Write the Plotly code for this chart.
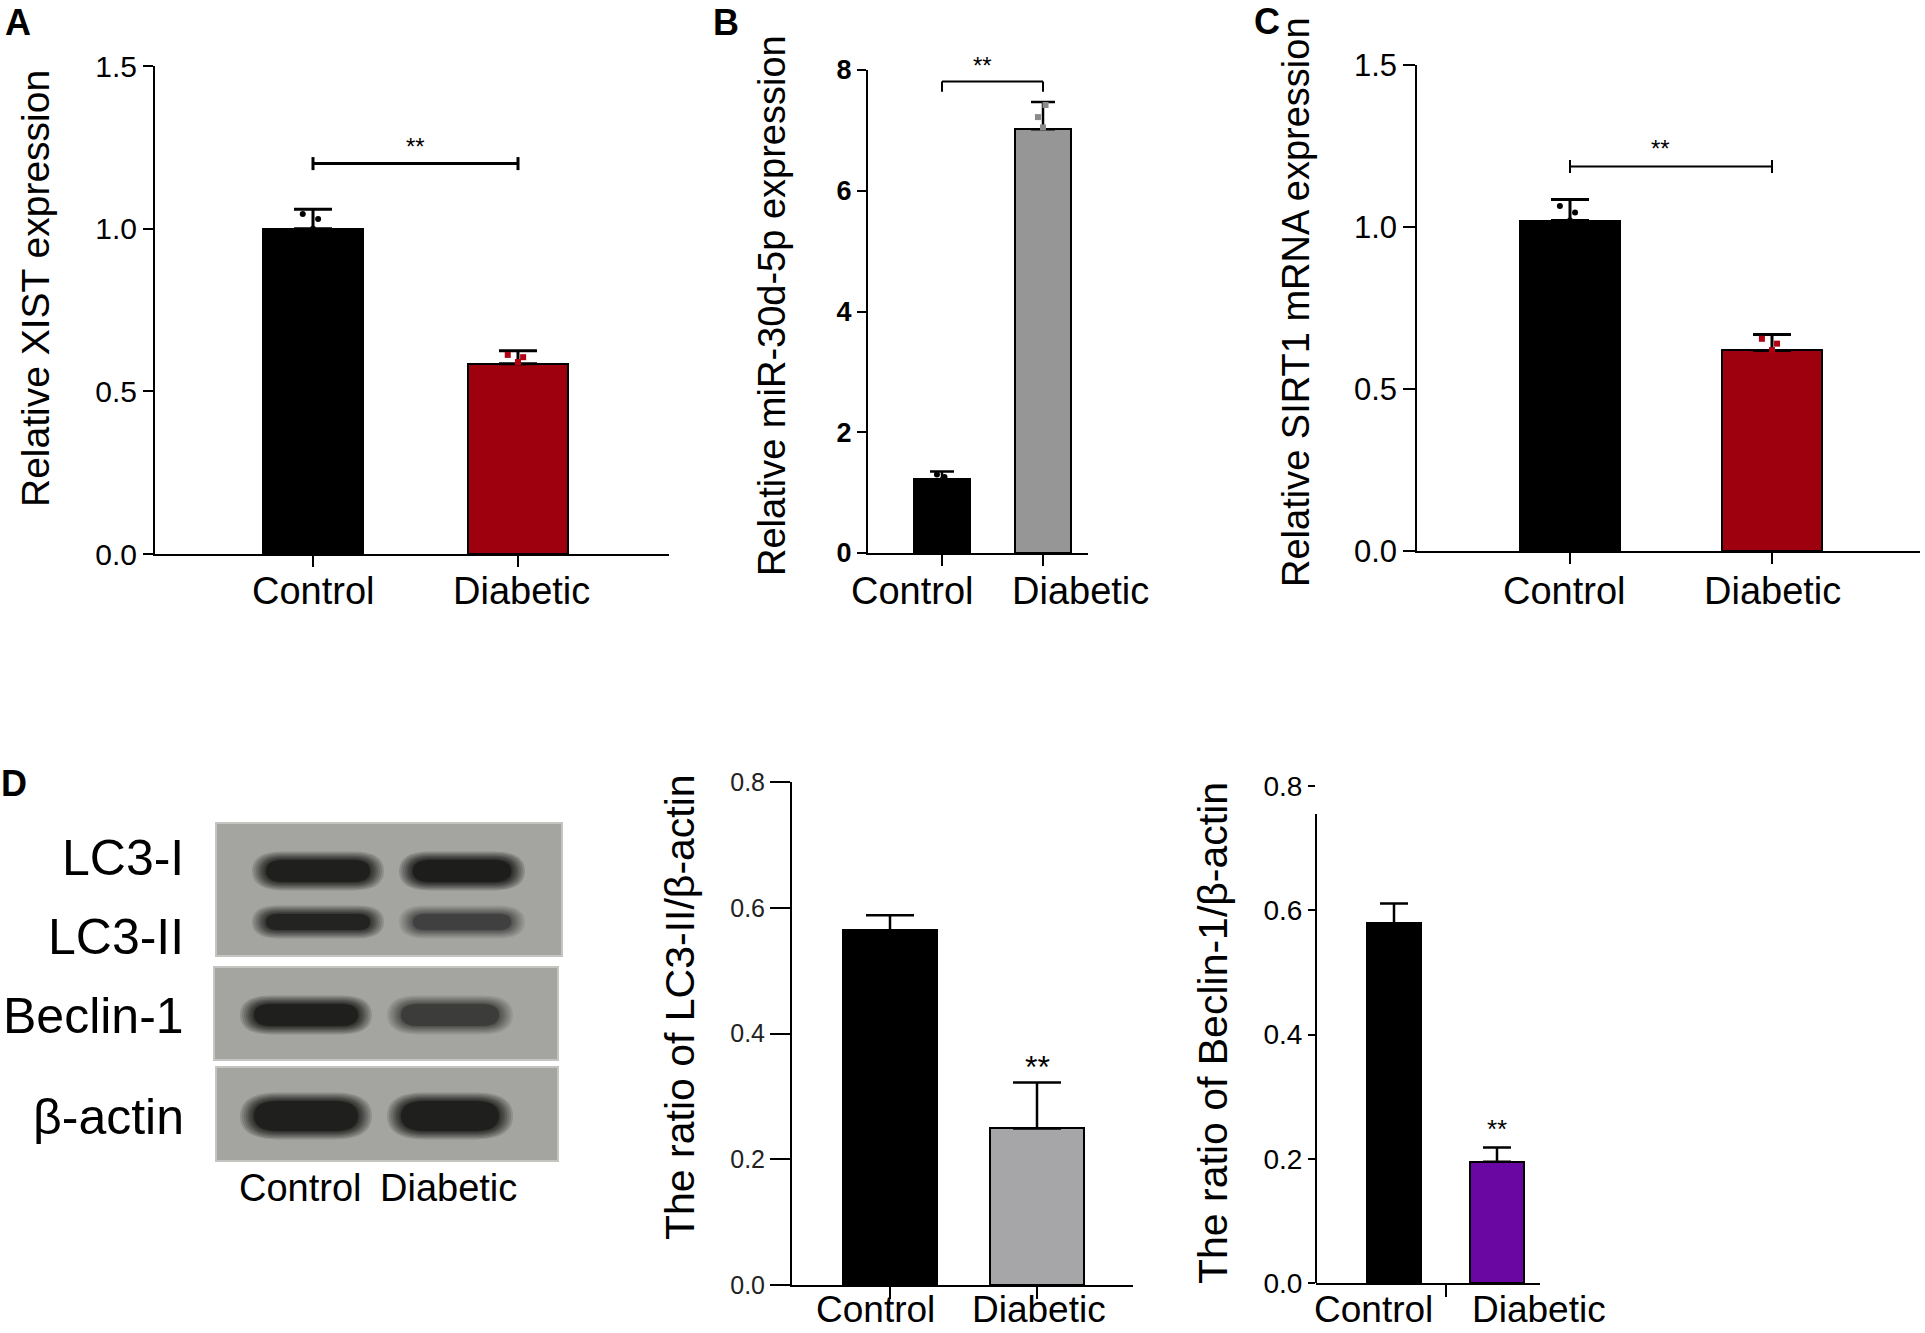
import plotly.graph_objects as go

W, H = 1925, 1333
FONT = "Liberation Sans, Arial, sans-serif"

groups = ["Control", "Diabetic"]

# A - XIST
xist_mean = [1.00, 0.585]
xist_sd = [0.06, 0.04]
xist_pts_ctrl = [1.045, 1.03, 1.00]
xist_pts_diab = [0.612, 0.605, 0.59]

# B - miR-30d-5p
mir_mean = [1.22, 7.02]
mir_sd = [0.13, 0.45]
mir_pts_ctrl = [1.30, 1.26, 1.21]
mir_pts_diab = [7.22, 7.42, 7.05]

# C - SIRT1
sirt_mean = [1.02, 0.619]
sirt_sd = [0.065, 0.049]
sirt_pts_ctrl = [1.065, 1.045, 1.02]
sirt_pts_diab = [0.655, 0.64, 0.62]

# D - western blot ratios
lc3_mean = [0.564, 0.249]
lc3_sd = [0.024, 0.073]
beclin_mean = [0.579, 0.195]
beclin_sd = [0.032, 0.023]

# blot band darkness (control, diabetic)
blot_rows = ["LC3-I", "LC3-II", "Beclin-1", "β-actin"]
band_lc3i = [0.95, 1.0]
band_lc3ii = [0.9, 0.55]
band_beclin = [0.95, 0.6]
band_actin = [0.95, 0.95]

sig = "**"

jitter = [-0.05, 0.025, 0.0]

fig = go.Figure()


def px(p):
    return p / W


def py(p):
    return 1 - p / H


def set_axes(n, x0, x1, c0, c1, ybot, ytop, yrange, yticks, yfmt, tfont, ylen,
             xticks=(0, 1), xlen=11, yline=True, lw=2):
    s = c1 - c0
    k = "" if n == 1 else str(n)
    fig.update_layout({
        "xaxis" + k: dict(domain=[px(x0), px(x1)], range=[-(c0 - x0) / s, 1 + (x1 - c1) / s],
                          anchor="y" + k, showline=True, linecolor="black", linewidth=lw,
                          ticks="outside", tickvals=list(xticks), ticklen=xlen, tickwidth=2,
                          tickcolor="black", showticklabels=False, showgrid=False,
                          zeroline=False, automargin=False),
        "yaxis" + k: dict(domain=[py(ybot), py(ytop)], range=yrange, anchor="x" + k,
                          showline=yline, linecolor="black", linewidth=lw, ticks="outside",
                          tickvals=yticks, tickformat=yfmt, ticklen=ylen, tickwidth=2,
                          tickcolor="black", tickfont=tfont, showgrid=False, zeroline=False,
                          automargin=False),
    })
    return k


def bars(k, means, sds, colors, bw, capw, capt=3):
    fig.add_trace(go.Bar(
        x=[0, 1], y=means, width=bw, xaxis="x" + k, yaxis="y" + k, showlegend=False,
        marker=dict(color=colors, line=dict(color="black", width=2)),
        error_y=dict(type="data", symmetric=False, array=sds, arrayminus=[0, 0],
                     color="black", thickness=capt, width=capw)))


def dots(k, xi, pts, color, symbol="circle"):
    fig.add_trace(go.Scatter(
        x=[xi + j for j in jitter], y=pts, mode="markers", xaxis="x" + k, yaxis="y" + k,
        showlegend=False, marker=dict(size=6, color=color, symbol=symbol)))


def bracket(k, level, drop, width, down_only=False):
    lo = level - drop
    hi = level if down_only else level + drop
    fig.add_trace(go.Scatter(
        x=[0, 0, None, 0, 1, None, 1, 1], y=[lo, hi, None, level, level, None, lo, hi],
        mode="lines", line=dict(color="black", width=width), xaxis="x" + k, yaxis="y" + k,
        showlegend=False, hoverinfo="skip"))


def text(x, y, t, size, angle=0, bold=False, xanchor="center", color="black"):
    fig.add_annotation(x=px(x), y=py(y), xref="paper", yref="paper", text=t,
                       showarrow=False, textangle=angle, xanchor=xanchor, yanchor="middle",
                       font=dict(family=FONT, size=size, color=color,
                                 weight="bold" if bold else "normal"))


def star(k, xv, yv, size, yshift=0):
    fig.add_annotation(x=xv, y=yv, xref="x" + k, yref="y" + k, text=sig, showarrow=False,
                       xanchor="center", yanchor="bottom", yshift=yshift,
                       font=dict(family=FONT, size=size, color="black"))


# ---- A ----
ka = set_axes(1, 155, 669, 313, 518, 554, 66, [0, 1.5], [0, 0.5, 1.0, 1.5], ".1f",
              dict(family=FONT, size=30, color="black"), 10)
bars(ka, xist_mean, xist_sd, ["#000000", "#9e000e"], 0.49, 19)
dots(ka, 0, xist_pts_ctrl, "black")
dots(ka, 1, xist_pts_diab, "#b00012", "square")
bracket(ka, 1.2, 0.02, 3)
star(ka, 0.5, 1.2, 24, 2)
text(35, 289, "Relative XIST expression", 39, -90)
text(313, 591, groups[0], 38)
text(521, 591, groups[1], 38)
text(18, 23, "A", 36, bold=True)

# ---- B ----
kb = set_axes(2, 868, 1088, 942, 1043, 553, 70, [0, 8], [0, 2, 4, 6, 8], "d",
              dict(family=FONT, size=27, color="black", weight="bold"), 9)
bars(kb, mir_mean, mir_sd, ["#000000", "#969696"], 0.56, 12, 2.5)
dots(kb, 0, mir_pts_ctrl, "black")
dots(kb, 1, mir_pts_diab, "#8a8a8a", "square")
bracket(kb, 7.81, 0.17, 2, down_only=True)
star(kb, 0.4, 7.81, 24, 0)
text(772, 306, "Relative miR-30d-5p expression", 38, -90)
text(912, 591, groups[0], 38)
text(1080, 591, groups[1], 38)
text(726, 23, "B", 36, bold=True)

# ---- C ----
kc = set_axes(3, 1417, 1920, 1570, 1772, 551, 65, [0, 1.5], [0, 0.5, 1.0, 1.5], ".1f",
              dict(family=FONT, size=31, color="black"), 12, lw=1.6)
bars(kc, sirt_mean, sirt_sd, ["#000000", "#9e000e"], 0.495, 19)
dots(kc, 0, sirt_pts_ctrl, "black")
dots(kc, 1, sirt_pts_diab, "#b00012", "square")
bracket(kc, 1.187, 0.02, 2)
star(kc, 0.45, 1.187, 24, 2)
text(1296, 302, "Relative SIRT1 mRNA expression", 38, -90)
text(1564, 591, groups[0], 38)
text(1772, 591, groups[1], 38)
text(1267, 22, "C", 36, bold=True)

# ---- D: LC3-II ratio ----
kd = set_axes(4, 792, 1133, 890, 1037, 1285, 782, [0, 0.8], [0, 0.2, 0.4, 0.6, 0.8], ".1f",
              dict(family=FONT, size=25, color="#222222"), 20, xlen=12)
bars(kd, lc3_mean, lc3_sd, ["#000000", "#a6a6a9"], 0.64, 24, 2.5)
star(kd, 1, lc3_mean[1] + lc3_sd[1], 32, -4)
text(680, 1007, "The ratio of LC3-II/β-actin", 41, -90)
text(875, 1309, groups[0], 37)
text(1039, 1309, groups[1], 37)

# ---- D: Beclin-1 ratio ----
ke = set_axes(5, 1316, 1540, 1394, 1497, 1283, 786, [0, 0.8], [0, 0.2, 0.4, 0.6, 0.8], ".1f",
              dict(family=FONT, size=28, color="black"), 7, xticks=(0.5,), xlen=12,
              yline=False)
fig.add_shape(type="line", xref="x5 domain", yref="y5", x0=0, x1=0, y0=0, y1=0.755,
              line=dict(color="black", width=2))
bars(ke, beclin_mean, beclin_sd, ["#000000", "#6a06a2"], 0.53, 14, 2.5)
star(ke, 1, beclin_mean[1] + beclin_sd[1], 26, 2)
text(1213, 1033, "The ratio of Beclin-1/β-actin", 41, -90)
text(1373, 1309, groups[0], 37)
text(1539, 1309, groups[1], 37)

# ---- D: western blot ----
text(14, 783, "D", 36, bold=True)
blot_boxes = [(216, 562, 823, 956), (214, 558, 967, 1060), (216, 558, 1067, 1161)]
for x0, x1, y0, y1 in blot_boxes:
    fig.add_shape(type="rect", xref="paper", yref="paper", x0=px(x0), x1=px(x1),
                  y0=py(y1), y1=py(y0), fillcolor="#a4a5a0",
                  line=dict(color="#c4c5c1", width=2), layer="below")


def band(cx, cy, w, h, k):
    # soft edges: many faint layers shrinking onto a dark core
    steps = [14, 12, 10, 8, 6.5, 5, 3.5, 2, 1, 0]
    for grow in steps:
        a = 0.14 if grow > 0 else 0.45
        x0, x1 = cx - w / 2 - grow, cx + w / 2 + grow
        y0, y1 = cy - h / 2 - grow * 0.6, cy + h / 2 + grow * 0.6
        r = (y1 - y0) * 0.8
        ym = (y0 + y1) / 2
        path = (f"M {px(x0 + r)},{py(y0)} L {px(x1 - r)},{py(y0)} "
                f"Q {px(x1)},{py(y0)} {px(x1)},{py(ym)} Q {px(x1)},{py(y1)} {px(x1 - r)},{py(y1)} "
                f"L {px(x0 + r)},{py(y1)} Q {px(x0)},{py(y1)} {px(x0)},{py(ym)} "
                f"Q {px(x0)},{py(y0)} {px(x0 + r)},{py(y0)} Z")
        fig.add_shape(type="path", xref="paper", yref="paper", path=path,
                      fillcolor="#0a0a0a", opacity=a * k, line=dict(width=0))


lane_x = [318, 462]
lane_w = [104, 98]
rows = [(band_lc3i, 871, 22), (band_lc3ii, 922, 16), (band_beclin, 1015, 22), (band_actin, 1116, 30)]
for dark, yc, hh in rows:
    for i in range(2):
        band(lane_x[i] - (12 if yc > 1000 else 0), yc, lane_w[i], hh, dark[i])

label_y = [858, 937, 1016, 1117]
for name, yy in zip(blot_rows, label_y):
    text(186, yy, name, 50, xanchor="right")
text(300, 1188, groups[0], 38)
text(448, 1188, groups[1], 38)

fig.update_layout(width=W, height=H, margin=dict(l=0, r=0, t=0, b=0, pad=0, autoexpand=False),
                  paper_bgcolor="white", plot_bgcolor="white", bargap=0,
                  font=dict(family=FONT, color="black"))

pin_top = (
    "document.documentElement.style.margin='0';"
    "document.body.style.margin='0';document.body.style.padding='0';"
    "document.body.style.overflow='hidden';"
    "var g=document.querySelector('.plotly-graph-div');"
    "g.style.position='fixed';g.style.top='0px';g.style.left='0px';"
)
fig.write_html("out.html", config={"displayModeBar": False}, post_script=pin_top)
